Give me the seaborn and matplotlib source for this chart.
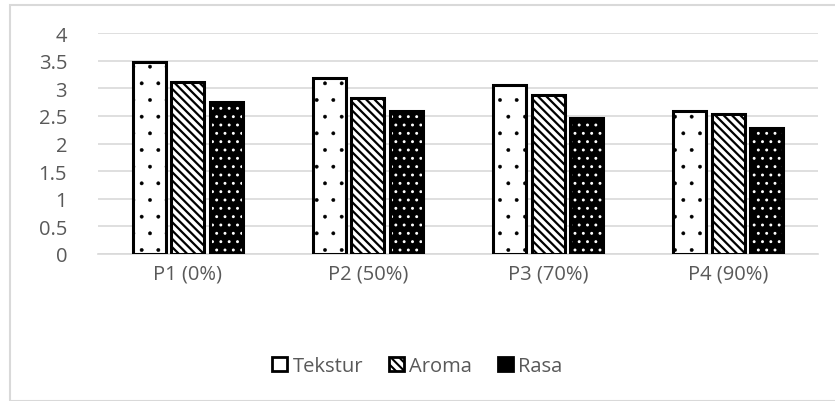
import matplotlib
matplotlib.use("Agg")
import matplotlib.pyplot as plt
import matplotlib.patches as mpatches
import pandas as pd
import seaborn as sns

categories = ["P1 (0%)", "P2 (50%)", "P3 (70%)", "P4 (90%)"]
series = ["Tekstur", "Aroma", "Rasa"]
tekstur = [3.47, 3.18, 3.06, 2.59]
aroma = [3.12, 2.82, 2.88, 2.53]
rasa = [2.76, 2.59, 2.47, 2.29]
yticks = [0, 0.5, 1, 1.5, 2, 2.5, 3, 3.5, 4]

df = pd.DataFrame({
    "Perlakuan": categories * 3,
    "Atribut": [s for s in series for _ in categories],
    "Nilai": tekstur + aroma + rasa,
})

sns.set_theme(style="white")
plt.rcParams["font.family"] = ["Open Sans", "DejaVu Sans"]
plt.rcParams["hatch.linewidth"] = 1.5
TEXT = "#595959"

fig = plt.figure(figsize=(8.35, 4.02), dpi=100)
ax = fig.add_axes([0.117, 0.366, 0.863, 0.549])
fig.patches.append(mpatches.Rectangle((0.012, 0.0), 0.99, 0.985, transform=fig.transFigure,
                                      fill=False, edgecolor="#d9d9d9", lw=1.5))

sns.barplot(data=df, x="Perlakuan", y="Nilai", hue="Atribut", hue_order=series,
            order=categories, width=0.64, gap=0.14, ax=ax, legend=False,
            palette=["white", "white", "black"], saturation=1)

styles = {
    "Tekstur": dict(face="white", hatch=".", hcol="black", hlw=0.3),
    "Aroma": dict(face="white", hatch="\\\\\\\\", hcol="black", hlw=1.6),
    "Rasa": dict(face="black", hatch="..", hcol="white", hlw=0.9),
}
n = len(categories)
for i, bar in enumerate(ax.patches[:n * len(series)]):
    st = styles[series[i // n]]
    bar.set_facecolor(st["face"])
    bar.set_hatch(st["hatch"])
    bar.set_edgecolor(st["hcol"])
    bar.set_linewidth(0)
    if hasattr(bar, "set_hatch_linewidth"):
        bar.set_hatch_linewidth(st["hlw"])
    x, w, h = bar.get_x(), bar.get_width(), bar.get_height()
    ax.add_patch(mpatches.Rectangle((x, 0), w, h, fill=False, edgecolor="black",
                                    lw=2.2, zorder=3))

ax.set_ylim(0, 4)
ax.set_yticks(yticks)
ax.set_yticklabels([f"{t:g}" for t in yticks])
ax.set_xlim(-0.5, n - 0.5)
ax.yaxis.grid(True, color="#d9d9d9", lw=1.2)
ax.set_axisbelow(True)
for s in ["top", "right", "left"]:
    ax.spines[s].set_visible(False)
ax.spines["bottom"].set_color("#d9d9d9")
ax.spines["bottom"].set_linewidth(1.2)
ax.tick_params(axis="both", length=0, labelsize=14.5, labelcolor=TEXT)
ax.tick_params(axis="x", pad=7)
ax.tick_params(axis="y", pad=22)
for lab in ax.get_yticklabels():
    lab.set_horizontalalignment("right")
ax.set_xlabel("")
ax.set_ylabel("")

handles = []
for s in series:
    st = styles[s]
    handles.append(mpatches.Patch(facecolor=st["face"], hatch=st["hatch"] if s == "Aroma" else None,
                                  edgecolor="black", lw=2.0, label=s))
handles[2] = mpatches.Patch(facecolor="black", edgecolor="black", lw=2.0, label="Rasa")
fig.legend(handles=handles, loc="center", bbox_to_anchor=(0.5, 0.087), ncol=3,
           frameon=False, fontsize=14.5, labelcolor=TEXT, handlelength=0.75,
           handleheight=0.75, handletextpad=0.25, columnspacing=1.3)

fig.savefig("out.png", dpi=100)
